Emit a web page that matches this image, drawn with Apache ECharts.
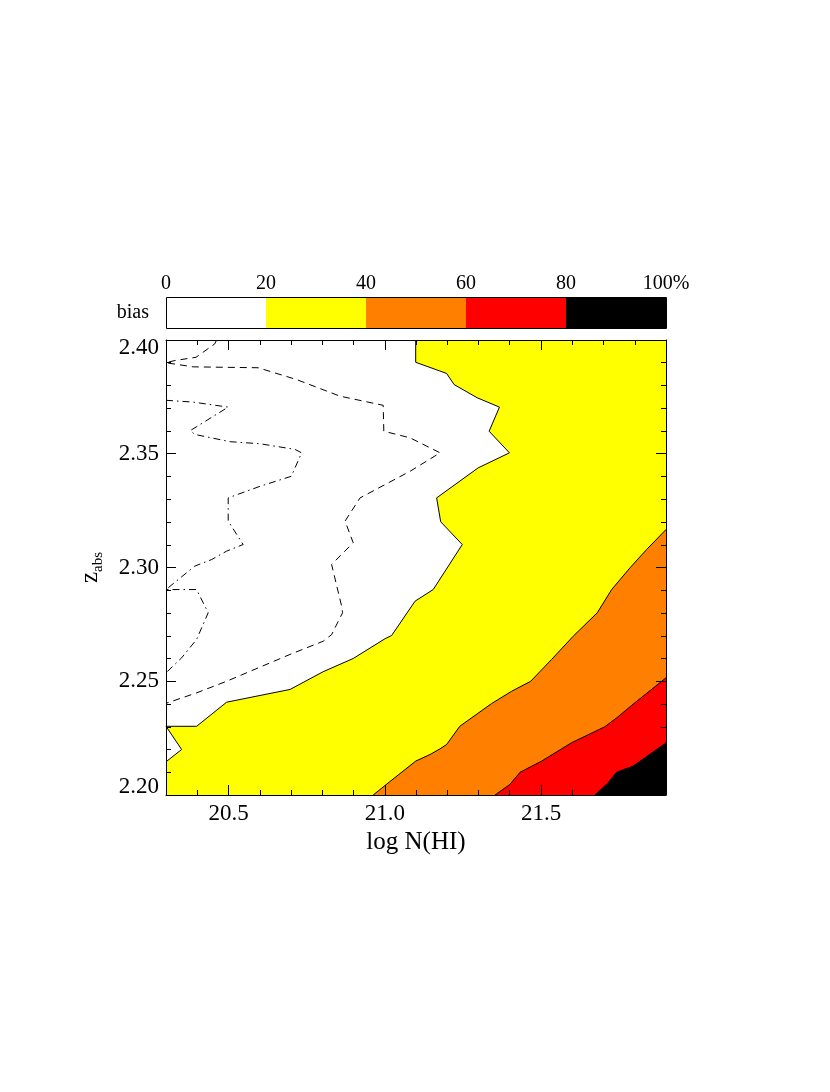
<!DOCTYPE html>
<html><head><meta charset="utf-8">
<script src="https://cdn.jsdelivr.net/npm/echarts@6/dist/echarts.min.js"></script>
<style>html,body{margin:0;padding:0;background:#fff}#c{width:830px;height:1092px}</style>
</head><body><div id="c"></div>
<script>
// ---- axis ranges and ticks ----
const xRange = [20.3, 21.9];
const yRange = [2.20, 2.40];
const xMajorTicks = [20.5, 21.0, 21.5];
const xMinorTicks = [20.4, 20.6, 20.7, 20.8, 20.9, 21.1, 21.2, 21.3, 21.4, 21.6, 21.7, 21.8];
const yMajorTicks = [2.20, 2.25, 2.30, 2.35, 2.40];
const yMinorTicks = [2.21, 2.22, 2.23, 2.24, 2.26, 2.27, 2.28, 2.29, 2.31, 2.32, 2.33, 2.34, 2.36, 2.37, 2.38, 2.39];
const biasLevels = [0, 20, 40, 60, 80, 100];

// ---- contour lines [log N(HI), z_abs] ----
const contour20 = [[21.099, 2.40], [21.099, 2.3902], [21.198, 2.3853], [21.222, 2.3804], [21.296, 2.3746],
  [21.367, 2.3705], [21.334, 2.3599], [21.399, 2.3504], [21.299, 2.3438], [21.166, 2.3306], [21.179, 2.3201],
  [21.248, 2.3101], [21.155, 2.2903], [21.097, 2.2852], [21.022, 2.2701], [21.001, 2.2687], [20.899, 2.2600],
  [20.803, 2.2542], [20.697, 2.2464], [20.494, 2.2408], [20.398, 2.2302], [20.300, 2.2302], [20.350, 2.2200],
  [20.300, 2.2146]];
const contour40 = [[21.9, 2.3167], [21.838, 2.3079], [21.785, 2.2999], [21.726, 2.2903], [21.680, 2.2801],
  [21.603, 2.2698], [21.534, 2.2596], [21.467, 2.2500], [21.406, 2.2456], [21.342, 2.2402], [21.240, 2.2302],
  [21.198, 2.2222], [21.177, 2.2203], [21.145, 2.2178], [21.099, 2.2149], [21.001, 2.2042], [20.963, 2.20]];
const contour60 = [[21.9, 2.2515], [21.800, 2.2405], [21.742, 2.2339], [21.704, 2.2300], [21.598, 2.2230],
  [21.502, 2.2149], [21.433, 2.2100], [21.400, 2.2046], [21.353, 2.20]];
const contour80 = [[21.9, 2.2229], [21.795, 2.2127], [21.742, 2.2100], [21.715, 2.2054], [21.673, 2.20]];
const contourDashed = [[20.462, 2.40], [20.456, 2.3983], [20.396, 2.3924], [20.329, 2.3910], [20.300, 2.3900],
  [20.387, 2.3882], [20.595, 2.3878], [20.718, 2.3826], [20.857, 2.3753], [20.995, 2.3713], [20.997, 2.3599],
  [21.081, 2.3570], [21.177, 2.3504], [21.081, 2.3423], [20.921, 2.3306], [20.873, 2.3204], [20.899, 2.3109],
  [20.830, 2.3013], [20.824, 2.3006], [20.862, 2.2830], [20.865, 2.2801], [20.830, 2.2705], [20.803, 2.2676],
  [20.697, 2.2618], [20.494, 2.2500], [20.398, 2.2449], [20.300, 2.2403]];
const contourDashDot = [[20.300, 2.3735], [20.387, 2.3727], [20.499, 2.3705], [20.378, 2.3602], [20.392, 2.3585],
  [20.505, 2.3553], [20.601, 2.3544], [20.713, 2.3519], [20.734, 2.3504], [20.701, 2.3401], [20.601, 2.3357],
  [20.499, 2.3306], [20.499, 2.3204], [20.547, 2.3101], [20.494, 2.3072], [20.446, 2.3035], [20.392, 2.3006],
  [20.300, 2.2903], [20.398, 2.2903], [20.435, 2.2801], [20.398, 2.2684], [20.350, 2.2603], [20.300, 2.2537]];

// ---- styles ----
const biasColors = ['#ffffff', '#ffff00', '#ff7f00', '#ff0000', '#000000'];
const FONT = 'Liberation Serif';

// fill regions built from the data
const fullPlot = [[xRange[0], yRange[1]], [xRange[1], yRange[1]], [xRange[1], yRange[0]], [xRange[0], yRange[0]]];
const fills = [
  { pts: fullPlot, color: biasColors[1] },
  { pts: [[xRange[0], yRange[1]]].concat(contour20), color: biasColors[0] },
  { pts: contour40.concat([[xRange[1], yRange[0]]]), color: biasColors[2] },
  { pts: contour60.concat([[xRange[1], yRange[0]]]), color: biasColors[3] },
  { pts: contour80.concat([[xRange[1], yRange[0]]]), color: biasColors[4] }
];
const barSegs = biasLevels.slice(0, -1).map((v, i) => [v, biasLevels[i + 1]]);

const axisLineStyle = { color: '#000', width: 1 };
function xAx(position, ticks, len, extra) {
  return Object.assign({
    gridIndex: 0, type: 'value', min: xRange[0], max: xRange[1], position: position, z: 10,
    axisLine: { show: true, onZero: false, lineStyle: axisLineStyle },
    axisTick: { show: true, inside: true, length: len, customValues: ticks, lineStyle: axisLineStyle },
    axisLabel: { show: false }, splitLine: { show: false }
  }, extra || {});
}
function yAx(position, ticks, len, extra) {
  return Object.assign({
    gridIndex: 0, type: 'value', min: yRange[0], max: yRange[1], position: position, z: 10,
    axisLine: { show: true, onZero: false, lineStyle: axisLineStyle },
    axisTick: { show: true, inside: true, length: len, customValues: ticks, lineStyle: axisLineStyle },
    axisLabel: { show: false }, splitLine: { show: false }
  }, extra || {});
}

const chart = echarts.init(document.getElementById('c'), null, { renderer: 'canvas' });
const option = {
  animation: false,
  backgroundColor: '#ffffff',
  grid: [
    { left: 166, top: 340, width: 500, height: 455, outerBoundsMode: 'none', containLabel: false },
    { left: 166, top: 297, width: 500, height: 31, outerBoundsMode: 'none', containLabel: false }
  ],
  xAxis: [
    xAx('bottom', xMajorTicks, 10, {
      axisLabel: { show: true, customValues: xMajorTicks, margin: 7, color: '#000', fontFamily: FONT, fontSize: 23,
        formatter: v => v.toFixed(1) },
      name: 'log N(HI)', nameLocation: 'middle', nameGap: 35,
      nameTextStyle: { color: '#000', fontFamily: FONT, fontSize: 25 }
    }),
    xAx('bottom', xMinorTicks, 5, { axisLine: { show: false } }),
    xAx('top', xMajorTicks, 10),
    xAx('top', xMinorTicks, 5, { axisLine: { show: false } }),
    {
      gridIndex: 1, type: 'value', min: biasLevels[0], max: biasLevels[biasLevels.length - 1], interval: 20,
      position: 'top', axisLine: { show: false }, axisTick: { show: false }, splitLine: { show: false },
      axisLabel: { show: true, margin: 3, color: '#000', fontFamily: FONT, fontSize: 20,
        formatter: v => (v === biasLevels[biasLevels.length - 1] ? v + '%' : String(v)) }
    }
  ],
  yAxis: [
    yAx('left', yMajorTicks, 10, {
      axisLabel: { show: true, customValues: yMajorTicks, margin: 7,
        formatter: v => {
          const s = v.toFixed(2);
          if (Math.abs(v - yRange[1]) < 1e-9) return '{hi|' + s + '}';
          if (Math.abs(v - yRange[0]) < 1e-9) return '{lo|' + s + '}';
          return '{n|' + s + '}';
        },
        rich: {
          n: { color: '#000', fontFamily: FONT, fontSize: 23 },
          hi: { color: '#000', fontFamily: FONT, fontSize: 23, padding: [15, 0, 0, 0] },
          lo: { color: '#000', fontFamily: FONT, fontSize: 23, padding: [0, 0, 16, 0] }
        }
      },
      name: '{z|z}{s|abs}', nameLocation: 'middle', nameRotate: 90, nameGap: 60,
      nameTextStyle: {
        rich: {
          z: { color: '#000', fontFamily: FONT, fontSize: 25 },
          s: { color: '#000', fontFamily: FONT, fontSize: 15, padding: [16, 0, 0, 0] }
        }
      }
    }),
    yAx('left', yMinorTicks, 5, { axisLine: { show: false } }),
    yAx('right', yMajorTicks, 10),
    yAx('right', yMinorTicks, 5, { axisLine: { show: false } }),
    {
      gridIndex: 1, type: 'value', min: 0, max: 1, axisLine: { show: false }, axisTick: { show: false },
      axisLabel: { show: false }, splitLine: { show: false },
      name: 'bias', nameLocation: 'middle', nameRotate: 0, nameGap: 17,
      nameTextStyle: { color: '#000', fontFamily: FONT, fontSize: 20 }
    }
  ],
  series: [
    {
      type: 'custom', xAxisIndex: 0, yAxisIndex: 0, z: 1, silent: true,
      data: fills.map(f => f.pts[0]),
      renderItem: (params, api) => {
        const f = fills[params.dataIndex];
        return { type: 'polygon', shape: { points: f.pts.map(p => api.coord(p)) }, style: { fill: f.color, stroke: null } };
      }
    },
    { type: 'line', xAxisIndex: 0, yAxisIndex: 0, data: contour20, symbol: 'none', silent: true, z: 3,
      lineStyle: { color: '#000', width: 1 } },
    { type: 'line', xAxisIndex: 0, yAxisIndex: 0, data: contour40, symbol: 'none', silent: true, z: 3,
      lineStyle: { color: '#000', width: 1 } },
    { type: 'line', xAxisIndex: 0, yAxisIndex: 0, data: contour60, symbol: 'none', silent: true, z: 3,
      lineStyle: { color: '#000', width: 1 } },
    { type: 'line', xAxisIndex: 0, yAxisIndex: 0, data: contour80, symbol: 'none', silent: true, z: 3,
      lineStyle: { color: '#000', width: 1 } },
    { type: 'line', xAxisIndex: 0, yAxisIndex: 0, data: contourDashed, symbol: 'none', silent: true, z: 3,
      lineStyle: { color: '#000', width: 1, type: [7, 5] } },
    { type: 'line', xAxisIndex: 0, yAxisIndex: 0, data: contourDashDot, symbol: 'none', silent: true, z: 3,
      lineStyle: { color: '#000', width: 1, type: [7, 4, 1.5, 4] } },
    {
      type: 'custom', xAxisIndex: 4, yAxisIndex: 4, silent: true, z: 2,
      data: barSegs,
      renderItem: (params, api) => {
        const a = api.coord([api.value(0), 1]);
        const b = api.coord([api.value(1), 0]);
        return { type: 'rect', shape: { x: a[0], y: a[1], width: b[0] - a[0], height: b[1] - a[1] },
          style: { fill: biasColors[params.dataIndex], stroke: null } };
      }
    },
    {
      type: 'custom', xAxisIndex: 4, yAxisIndex: 4, silent: true, z: 4,
      data: [[biasLevels[0], biasLevels[biasLevels.length - 1]]],
      renderItem: (params, api) => {
        const a = api.coord([api.value(0), 1]);
        const b = api.coord([api.value(1), 0]);
        return { type: 'rect', shape: { x: Math.round(a[0]) + 0.5, y: Math.round(a[1]) + 0.5,
          width: Math.round(b[0] - a[0]), height: Math.round(b[1] - a[1]) },
          style: { fill: null, stroke: '#000', lineWidth: 1 } };
      }
    }
  ]
};
chart.setOption(option);
</script>
</body></html>
